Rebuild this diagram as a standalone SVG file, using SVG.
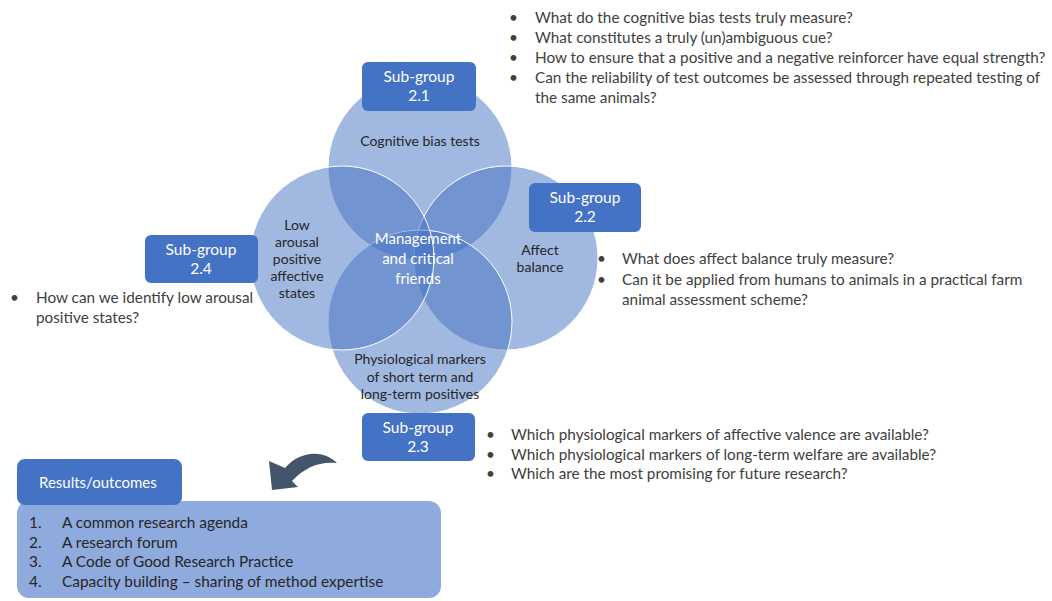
<svg xmlns="http://www.w3.org/2000/svg" width="1052" height="601" viewBox="0 0 1052 601">
<style>
.c{fill:#4472C4;fill-opacity:0.5;stroke:#ffffff;stroke-width:1}
.box{fill:#4472C4}
.bt{font-family:Lato,"Open Sans",sans-serif;font-size:15.5px;fill:#ffffff;text-anchor:middle}
.lab{font-family:Lato,"Open Sans",sans-serif;font-size:14px;fill:#262626;text-anchor:middle}
.mid{font-family:Lato,"Open Sans",sans-serif;font-size:15px;fill:#ffffff;text-anchor:middle}
.q{font-family:Lato,"Open Sans",sans-serif;font-size:15.3px;fill:#404040}
.li{font-family:Lato,"Open Sans",sans-serif;font-size:15.4px;fill:#262626}
</style>
<rect width="1052" height="601" fill="#ffffff"/>
<g id="venn">
<circle class="c" cx="420" cy="168" r="92"/>
<circle class="c" cx="506" cy="258" r="92"/>
<circle class="c" cx="420" cy="322" r="92"/>
<circle class="c" cx="342" cy="258" r="92"/>
</g>
<g id="circle-labels">
<text class="lab" x="420" y="146">Cognitive bias tests</text>
<text class="lab" x="297" y="230">Low</text>
<text class="lab" x="297" y="247">arousal</text>
<text class="lab" x="297" y="264">positive</text>
<text class="lab" x="297" y="281">affective</text>
<text class="lab" x="297" y="298">states</text>
<text class="lab" x="540" y="255">Affect</text>
<text class="lab" x="540" y="272">balance</text>
<text class="lab" x="420" y="364">Physiological markers</text>
<text class="lab" x="420" y="382">of short term and</text>
<text class="lab" x="420" y="399">long-term positives</text>
</g>
<g id="center">
<text class="mid" x="418" y="244">Management</text>
<text class="mid" x="418" y="264">and critical</text>
<text class="mid" x="418" y="284">friends</text>
</g>
<g id="sg21">
<rect class="box" x="362" y="62" width="114" height="49" rx="6"/>
<text class="bt" x="419" y="82">Sub-group</text>
<text class="bt" x="419" y="101">2.1</text>
</g>
<g id="sg22">
<rect class="box" x="529" y="183" width="112" height="49" rx="6"/>
<text class="bt" x="585" y="203">Sub-group</text>
<text class="bt" x="585" y="222">2.2</text>
</g>
<g id="sg23">
<rect class="box" x="362" y="413" width="113" height="48" rx="6"/>
<text class="bt" x="418" y="433">Sub-group</text>
<text class="bt" x="418" y="452">2.3</text>
</g>
<g id="sg24">
<rect class="box" x="145" y="235" width="113" height="48" rx="6"/>
<text class="bt" x="201" y="255">Sub-group</text>
<text class="bt" x="201" y="274">2.4</text>
</g>
<g id="q21">
<text class="q" x="509" y="23">•</text><text class="q" x="535" y="23">What do the cognitive bias tests truly measure?</text>
<text class="q" x="509" y="43">•</text><text class="q" x="535" y="43">What constitutes a truly (un)ambiguous cue?</text>
<text class="q" x="509" y="63">•</text><text class="q" x="535" y="63">How to ensure that a positive and a negative reinforcer have equal strength?</text>
<text class="q" x="509" y="83">•</text><text class="q" x="535" y="83">Can the reliability of test outcomes be assessed through repeated testing of</text>
<text class="q" x="535" y="103">the same animals?</text>
</g>
<g id="q22">
<text class="q" x="597" y="264">•</text><text class="q" x="622" y="264">What does affect balance truly measure?</text>
<text class="q" x="597" y="285">•</text><text class="q" x="622" y="285">Can it be applied from humans to animals in a practical farm</text>
<text class="q" x="622" y="305">animal assessment scheme?</text>
</g>
<g id="q24">
<text class="q" x="10" y="303">•</text><text class="q" x="36" y="303">How can we identify low arousal</text>
<text class="q" x="36" y="323">positive states?</text>
</g>
<g id="q23">
<text class="q" x="486" y="440">•</text><text class="q" x="511" y="440">Which physiological markers of affective valence are available?</text>
<text class="q" x="486" y="460">•</text><text class="q" x="511" y="460">Which physiological markers of long-term welfare are available?</text>
<text class="q" x="486" y="479">•</text><text class="q" x="511" y="479">Which are the most promising for future research?</text>
</g>
<g id="connectors">
<path d="M337,463 C322,448 298,452 285,468 L269,461 L272,490 L298,487 L292,481 C305,467 320,461 337,463 Z" fill="#44546A"/>
</g>
<g id="results">
<rect x="17" y="501" width="424" height="97" rx="12" fill="#8FAADC"/>
<rect class="box" x="17" y="459" width="165" height="46" rx="8"/>
<text x="39" y="488" style="font-family:Lato,'Open Sans',sans-serif;font-size:15px;fill:#ffffff">Results/outcomes</text>
<text class="li" x="29" y="528">1.</text><text class="li" x="62" y="528">A common research agenda</text>
<text class="li" x="29" y="548">2.</text><text class="li" x="62" y="548">A research forum</text>
<text class="li" x="29" y="567">3.</text><text class="li" x="62" y="567">A Code of Good Research Practice</text>
<text class="li" x="29" y="587">4.</text><text class="li" x="62" y="587">Capacity building – sharing of method expertise</text>
</g>
</svg>
